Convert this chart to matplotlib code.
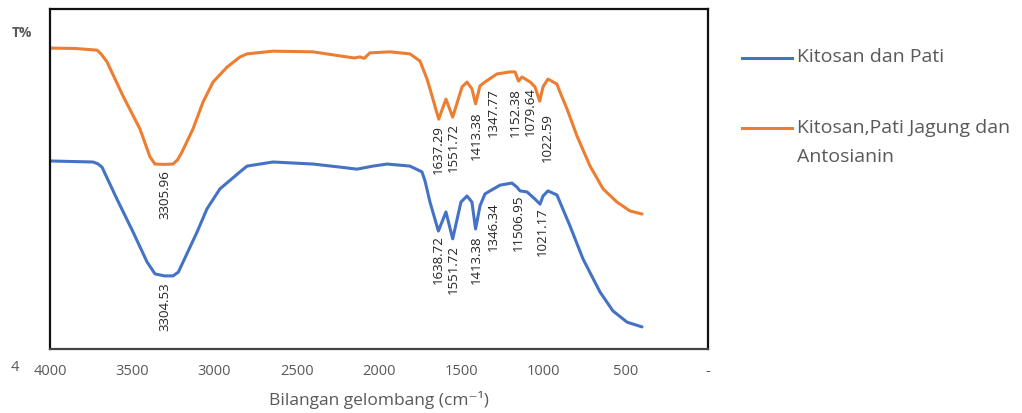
import matplotlib
matplotlib.use("Agg")
import matplotlib.pyplot as plt
from matplotlib.lines import Line2D

plt.rcParams["font.family"] = ["Open Sans", "DejaVu Sans"]

# spektrum FTIR (bilangan gelombang cm-1, T% skala relatif)
wn_orange = [4000, 3850, 3714, 3690, 3653, 3556, 3453, 3392, 3362, 3305, 3252, 3225,
             3198, 3131, 3070, 3009, 2924, 2845, 2802, 2644, 2401, 2237, 2150, 2115,
             2090, 2055, 1933, 1812, 1751, 1708, 1690, 1637, 1593, 1552, 1495, 1465,
             1435, 1413, 1386, 1356, 1348, 1283, 1204, 1173, 1152, 1131, 1080, 1052,
             1023, 1003, 973, 918, 900, 857, 796, 717, 638, 553, 474, 401]
t_orange = [88.5, 88.4, 87.9, 86.8, 84.4, 74.4, 64.7, 56.5, 54.4, 54.3, 54.4, 55.6,
            57.9, 64.7, 72.6, 78.5, 82.9, 85.9, 86.8, 87.6, 87.4, 86.2, 85.6, 85.9,
            85.5, 87.1, 87.4, 86.8, 84.7, 79.4, 76.5, 67.6, 73.5, 68.2, 77.1, 78.5,
            76.5, 72.1, 77.4, 78.5, 78.8, 80.9, 81.5, 81.5, 78.8, 80.0, 78.5, 77.1,
            72.9, 77.1, 79.4, 77.9, 75.6, 70.6, 62.6, 53.8, 47.1, 43.2, 40.6, 39.7]

wn_blue = [4000, 3739, 3710, 3684, 3593, 3495, 3410, 3362, 3305, 3252, 3220, 3191,
           3106, 3046, 2967, 2845, 2802, 2644, 2401, 2237, 2134, 2036, 1951, 1812,
           1739, 1720, 1690, 1639, 1593, 1552, 1502, 1465, 1435, 1413, 1386, 1356,
           1325, 1264, 1192, 1161, 1143, 1100, 1052, 1021, 1003, 973, 918, 900, 839,
           760, 657, 578, 492, 401]
t_blue = [55.3, 55.0, 54.5, 53.5, 44.1, 34.4, 25.6, 22.1, 21.5, 21.5, 22.6, 25.6,
          34.4, 41.2, 47.1, 52.1, 53.8, 55.0, 54.4, 53.5, 52.9, 53.8, 54.4, 53.8,
          52.1, 49.4, 43.2, 34.7, 40.3, 32.4, 43.2, 45.0, 43.2, 35.3, 42.1, 45.6,
          46.5, 48.2, 48.8, 47.6, 46.5, 46.2, 44.1, 42.6, 45.0, 46.5, 45.3, 43.2,
          36.2, 26.5, 16.8, 11.2, 7.9, 6.5]

# label puncak: (teks, posisi x, ujung atas label)
peaks_orange = [("3305.96", 3300, 52.9), ("1637.29", 1640, 66.2), ("1551.72", 1550, 66.8),
                ("1413.38", 1410, 70.0), ("1347.77", 1305, 77.1), ("1152.38", 1173, 77.1),
                ("1079.64", 1082, 77.4), ("1022.59", 979, 69.7)]
peaks_blue = [("3304.53", 3300, 20.0), ("1638.72", 1640, 33.8), ("1551.72", 1550, 30.9),
              ("1413.38", 1410, 33.8), ("1346.34", 1305, 43.5), ("11506.95", 1155, 45.6),
              ("1021.17", 1009, 42.1)]

xticks = [4000, 3500, 3000, 2500, 2000, 1500, 1000, 500, 0]
xtick_labels = ["4000", "3500", "3000", "2500", "2000", "1500", "1000", "500", "-"]

BLUE = "#4472C4"
ORANGE = "#ED7D31"
GREY = "#595959"

W, H = 1022, 414
fig = plt.figure(figsize=(W / 100, H / 100), dpi=100)
ax = fig.add_axes([50 / W, 64 / H, 658 / W, 340 / H])

ax.plot(wn_blue, t_blue, color=BLUE, lw=2.2, solid_capstyle="round")
ax.plot(wn_orange, t_orange, color=ORANGE, lw=2.2, solid_capstyle="round")

for txt, x, y in peaks_orange + peaks_blue:
    ax.text(x, y, txt, rotation=90, ha="center", va="top", fontsize=9.5, color="#222222")

ax.set_xlim(4000, 0)
ax.set_ylim(0, 100)
ax.set_xticks(xticks)
ax.set_xticklabels(xtick_labels, fontsize=10.5, color=GREY)
ax.tick_params(axis="x", length=0, pad=10)
ax.set_yticks([])
for s in ax.spines.values():
    s.set_linewidth(1.6)
    s.set_color("#111111")
ax.spines["bottom"].set_color("#444444")

# sisa label "4500" yang terpotong di kiri
ax.text(4213, -18 / 340, "4", ha="center", va="center", fontsize=10.5, color=GREY,
        transform=ax.get_xaxis_transform(), clip_on=False)
ax.set_xlabel("Bilangan gelombang (cm⁻¹)", fontsize=12.5, color=GREY, labelpad=9)
fig.text(12 / W, 1 - 33 / H, "T%", fontsize=10, color=GREY, fontweight="bold",
         va="center")

# legenda
fig.add_artist(Line2D([742 / W, 792 / W], [1 - 59 / H] * 2, color=BLUE, lw=2.2))
fig.add_artist(Line2D([742 / W, 792 / W], [1 - 129 / H] * 2, color=ORANGE, lw=2.2))
fig.text(797 / W, 1 - 57 / H, "Kitosan dan Pati", fontsize=14, color=GREY, va="center")
fig.text(797 / W, 1 - 128 / H, "Kitosan,Pati Jagung dan", fontsize=14, color=GREY,
         va="center")
fig.text(797 / W, 1 - 157 / H, "Antosianin", fontsize=14, color=GREY, va="center")

fig.savefig("out.png", dpi=100)
